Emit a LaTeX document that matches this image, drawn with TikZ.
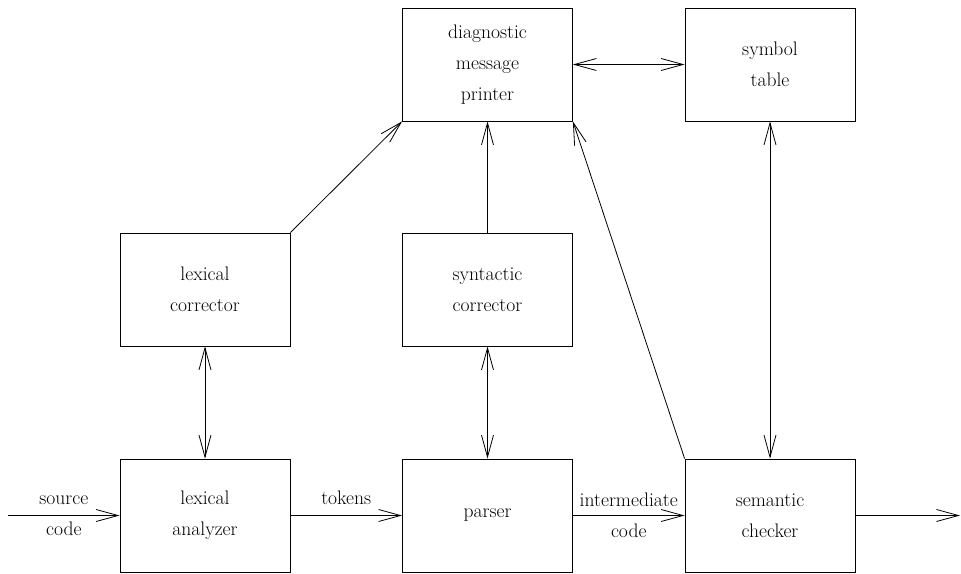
\documentclass[tikz,border=0pt]{standalone}
\usepackage{fontspec}
\usetikzlibrary{arrows.meta,positioning}

\begin{document}
\begin{tikzpicture}[
    x=1pt, y=-1pt,
    block/.style={draw, line width=0.8pt, minimum width=170pt, minimum height=113pt, inner sep=0pt, align=center, font=\fontsize{19.6}{31}\selectfont},
    arrow/.style={-{Straight Barb[length=22pt, width=12pt]}, line width=0.8pt},
    dblarrow/.style={{Straight Barb[length=22pt, width=12pt]}-{Straight Barb[length=22pt, width=12pt]}, line width=0.8pt},
    lbl/.style={font=\fontsize{19.6}{31}\selectfont, align=center}
]
\useasboundingbox (0,0) rectangle (961,573);

% Top row
\node[block] (diag) at (487.5,64.5) {diagnostic\\message\\printer};
\node[block] (symtab) at (770,64.5) {symbol\\table};

% Correctors
\node[block] (lexcor) at (205,289.5) {lexical\\corrector};
\node[block] (syncor) at (487.5,289.5) {syntactic\\corrector};

% Main pipeline
\node[block] (lexan) at (205,515.5) {lexical\\analyzer};
\node[block] (parser) at (487.5,515.5) {parser};
\node[block] (sem) at (770,515.5) {semantic\\checker};

\coordinate (src) at (8,515.5);
\coordinate (out) at (960,515.5);

% Pipeline arrows
\draw[arrow] (src) -- node[lbl, midway] {source\\code} (lexan.west);
\draw[arrow] (lexan) -- node[lbl, midway, anchor=base, yshift=11pt] {tokens} (parser);
\draw[arrow] (parser) -- node[lbl, midway] {intermediate\\code} (sem);
\draw[arrow] (sem.east) -- (out);

% Two-way links
\draw[dblarrow] (lexcor) -- (lexan);
\draw[dblarrow] (syncor) -- (parser);
\draw[dblarrow] (symtab) -- (sem);
\draw[dblarrow] (diag) -- (symtab);

% Messages
\draw[arrow] (lexcor.north east) -- (diag.south west);
\draw[arrow] (syncor) -- (diag);
\draw[arrow] (sem.north west) -- (diag.south east);

\end{tikzpicture}
\end{document}
